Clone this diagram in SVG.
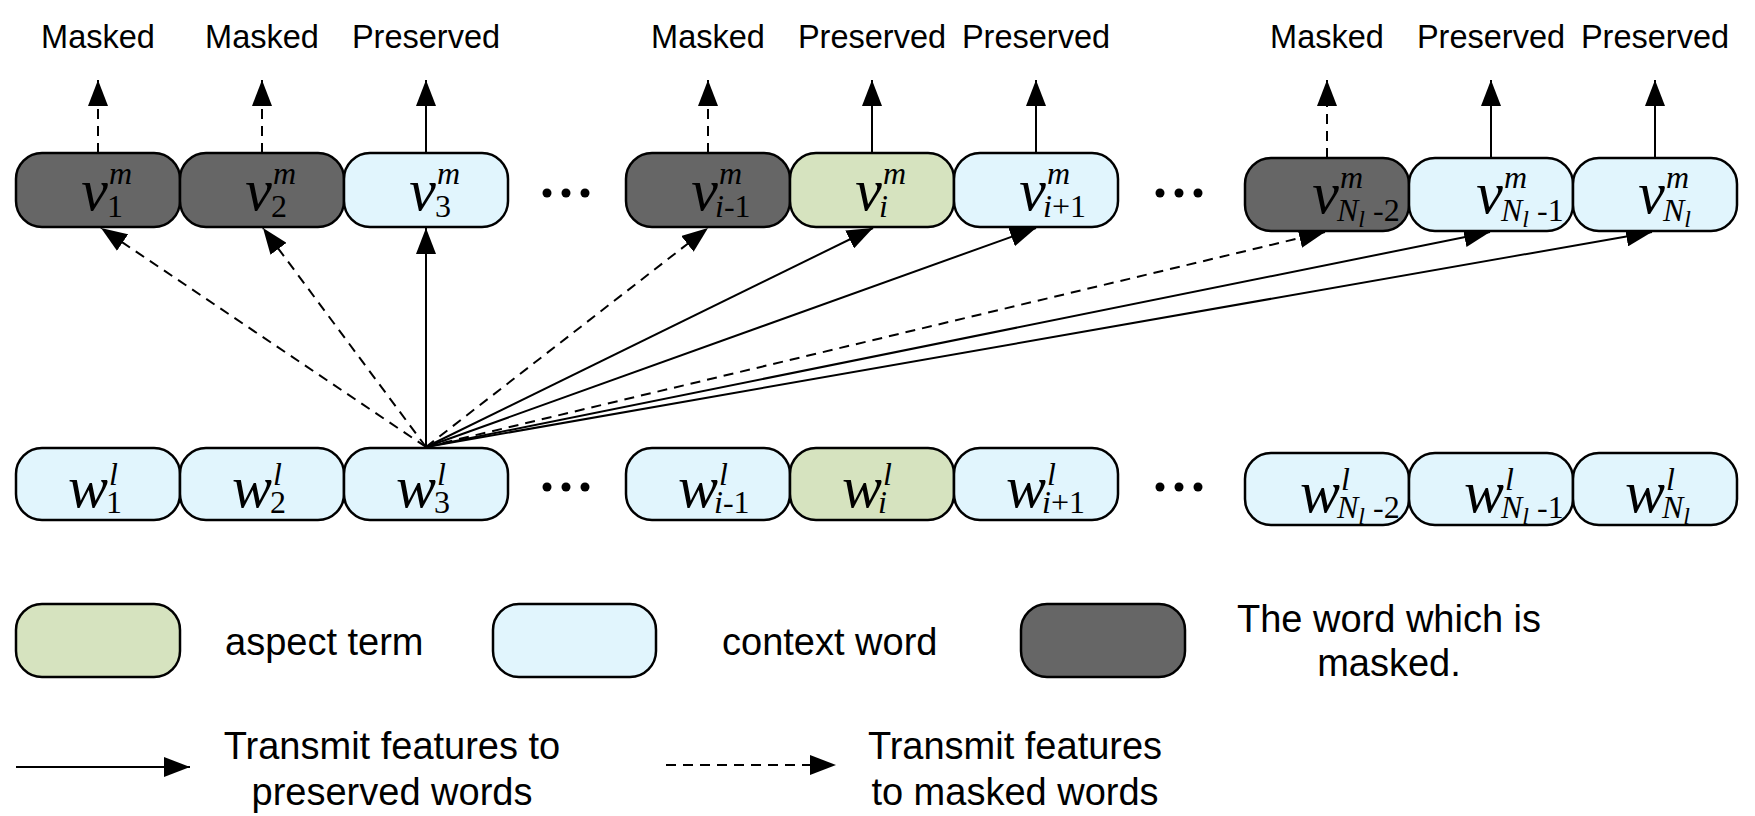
<svg xmlns="http://www.w3.org/2000/svg" width="1755" height="816" viewBox="0 0 1755 816">
<style>
.box{stroke:#000;stroke-width:2.5}
.dark{fill:#666666}
.blue{fill:#e1f5fd}
.green{fill:#d6e3bf}
.mv{font-family:"Liberation Serif",serif;font-style:italic;font-size:60px;fill:#000}
.sc{font-family:"Liberation Serif",serif;font-size:32px;fill:#000}
.it{font-style:italic}
.ssc{font-size:24px}
.lab{font-family:"Liberation Sans",Arial,sans-serif;font-size:32.5px;fill:#000;text-anchor:middle}
.leg{font-family:"Liberation Sans",Arial,sans-serif;font-size:38px;fill:#000}
.ln{stroke:#000;stroke-width:2;fill:none;marker-end:url(#ah)}
.dash{stroke-dasharray:10 7}
.dot{fill:#000}
</style>
<defs>
<marker id="ah" markerUnits="userSpaceOnUse" markerWidth="26" markerHeight="20" refX="26" refY="10" orient="auto">
<path d="M0,0 L26,10 L0,20 z" fill="#000"/>
</marker>
</defs>

<g id="connectors">
<line class="ln dash" x1="98" y1="153" x2="98" y2="80"/>
<line class="ln dash" x1="262" y1="153" x2="262" y2="80"/>
<line class="ln" x1="426" y1="153" x2="426" y2="80"/>
<line class="ln dash" x1="708" y1="153" x2="708" y2="80"/>
<line class="ln" x1="872" y1="153" x2="872" y2="80"/>
<line class="ln" x1="1036" y1="153" x2="1036" y2="80"/>
<line class="ln dash" x1="1327" y1="158" x2="1327" y2="80"/>
<line class="ln" x1="1491" y1="158" x2="1491" y2="80"/>
<line class="ln" x1="1655" y1="158" x2="1655" y2="80"/>
<line class="ln dash" x1="426" y1="447" x2="101" y2="228"/>
<line class="ln dash" x1="426" y1="447" x2="263" y2="228"/>
<line class="ln" x1="426" y1="447" x2="426" y2="228"/>
<line class="ln dash" x1="426" y1="447" x2="708" y2="228"/>
<line class="ln" x1="426" y1="447" x2="873" y2="228"/>
<line class="ln" x1="426" y1="447" x2="1036" y2="228"/>
<line class="ln dash" x1="426" y1="447" x2="1325" y2="232"/>
<line class="ln" x1="426" y1="447" x2="1490" y2="232"/>
<line class="ln" x1="426" y1="447" x2="1652" y2="232"/>
</g>

<g id="labels">
<text class="lab" x="98" y="48">Masked</text>
<text class="lab" x="262" y="48">Masked</text>
<text class="lab" x="426" y="48">Preserved</text>
<text class="lab" x="708" y="48">Masked</text>
<text class="lab" x="872" y="48">Preserved</text>
<text class="lab" x="1036" y="48">Preserved</text>
<text class="lab" x="1327" y="48">Masked</text>
<text class="lab" x="1491" y="48">Preserved</text>
<text class="lab" x="1655" y="48">Preserved</text>
</g>

<g id="v1"><rect class="box dark" x="16" y="153" width="164" height="74" rx="26"/>
<text class="mv" x="108" y="210" text-anchor="end">v</text><text class="sc it" x="109" y="184">m</text><text class="sc" x="107" y="217">1</text></g>
<g id="v2"><rect class="box dark" x="180" y="153" width="164" height="74" rx="26"/>
<text class="mv" x="272" y="210" text-anchor="end">v</text><text class="sc it" x="273" y="184">m</text><text class="sc" x="271" y="217">2</text></g>
<g id="v3"><rect class="box blue" x="344" y="153" width="164" height="74" rx="26"/>
<text class="mv" x="436" y="210" text-anchor="end">v</text><text class="sc it" x="437" y="184">m</text><text class="sc" x="435" y="217">3</text></g>
<g id="dots-top-1"><circle class="dot" cx="547" cy="193" r="4.5"/><circle class="dot" cx="566" cy="193" r="4.5"/><circle class="dot" cx="585" cy="193" r="4.5"/></g>
<g id="vim1"><rect class="box dark" x="626" y="153" width="164" height="74" rx="26"/>
<text class="mv" x="718" y="210" text-anchor="end">v</text><text class="sc it" x="719" y="184">m</text><text class="sc" x="715" y="217"><tspan class="it">i</tspan>-1</text></g>
<g id="vi"><rect class="box green" x="790" y="153" width="164" height="74" rx="26"/>
<text class="mv" x="882" y="210" text-anchor="end">v</text><text class="sc it" x="883" y="184">m</text><text class="sc it" x="879" y="217">i</text></g>
<g id="vip1"><rect class="box blue" x="954" y="153" width="164" height="74" rx="26"/>
<text class="mv" x="1046" y="210" text-anchor="end">v</text><text class="sc it" x="1047" y="184">m</text><text class="sc" x="1043" y="217"><tspan class="it">i</tspan>+1</text></g>
<g id="dots-top-2"><circle class="dot" cx="1160" cy="193" r="4.5"/><circle class="dot" cx="1179" cy="193" r="4.5"/><circle class="dot" cx="1198" cy="193" r="4.5"/></g>
<g id="vNm2"><rect class="box dark" x="1245" y="158" width="164" height="73" rx="26"/>
<text class="mv" x="1339" y="213" text-anchor="end">v</text><text class="sc it" x="1340" y="188">m</text><text class="sc" x="1337" y="221"><tspan class="it">N</tspan><tspan class="it ssc" dy="6">l</tspan><tspan dy="-6"> -2</tspan></text></g>
<g id="vNm1"><rect class="box blue" x="1409" y="158" width="164" height="73" rx="26"/>
<text class="mv" x="1503" y="213" text-anchor="end">v</text><text class="sc it" x="1504" y="188">m</text><text class="sc" x="1501" y="221"><tspan class="it">N</tspan><tspan class="it ssc" dy="6">l</tspan><tspan dy="-6"> -1</tspan></text></g>
<g id="vN"><rect class="box blue" x="1573" y="158" width="164" height="73" rx="26"/>
<text class="mv" x="1665" y="213" text-anchor="end">v</text><text class="sc it" x="1666" y="188">m</text><text class="sc" x="1663" y="221"><tspan class="it">N</tspan><tspan class="it ssc" dy="6">l</tspan></text></g>

<g id="w1"><rect class="box blue" x="16" y="448" width="164" height="72" rx="26"/>
<text class="mv" x="108" y="507" text-anchor="end">w</text><text class="sc it" x="109" y="485">l</text><text class="sc" x="106" y="513">1</text></g>
<g id="w2"><rect class="box blue" x="180" y="448" width="164" height="72" rx="26"/>
<text class="mv" x="272" y="507" text-anchor="end">w</text><text class="sc it" x="273" y="485">l</text><text class="sc" x="270" y="513">2</text></g>
<g id="w3"><rect class="box blue" x="344" y="448" width="164" height="72" rx="26"/>
<text class="mv" x="436" y="507" text-anchor="end">w</text><text class="sc it" x="437" y="485">l</text><text class="sc" x="434" y="513">3</text></g>
<g id="dots-bot-1"><circle class="dot" cx="547" cy="487" r="4.5"/><circle class="dot" cx="566" cy="487" r="4.5"/><circle class="dot" cx="585" cy="487" r="4.5"/></g>
<g id="wim1"><rect class="box blue" x="626" y="448" width="164" height="72" rx="26"/>
<text class="mv" x="718" y="507" text-anchor="end">w</text><text class="sc it" x="719" y="485">l</text><text class="sc" x="714" y="513"><tspan class="it">i</tspan>-1</text></g>
<g id="wi"><rect class="box green" x="790" y="448" width="164" height="72" rx="26"/>
<text class="mv" x="882" y="507" text-anchor="end">w</text><text class="sc it" x="883" y="485">l</text><text class="sc it" x="878" y="513">i</text></g>
<g id="wip1"><rect class="box blue" x="954" y="448" width="164" height="72" rx="26"/>
<text class="mv" x="1046" y="507" text-anchor="end">w</text><text class="sc it" x="1047" y="485">l</text><text class="sc" x="1042" y="513"><tspan class="it">i</tspan>+1</text></g>
<g id="dots-bot-2"><circle class="dot" cx="1160" cy="487" r="4.5"/><circle class="dot" cx="1179" cy="487" r="4.5"/><circle class="dot" cx="1198" cy="487" r="4.5"/></g>
<g id="wNm2"><rect class="box blue" x="1245" y="453" width="164" height="72" rx="26"/>
<text class="mv" x="1340" y="512" text-anchor="end">w</text><text class="sc it" x="1341" y="490">l</text><text class="sc" x="1337" y="518"><tspan class="it">N</tspan><tspan class="it ssc" dy="6">l</tspan><tspan dy="-6"> -2</tspan></text></g>
<g id="wNm1"><rect class="box blue" x="1409" y="453" width="164" height="72" rx="26"/>
<text class="mv" x="1504" y="512" text-anchor="end">w</text><text class="sc it" x="1505" y="490">l</text><text class="sc" x="1501" y="518"><tspan class="it">N</tspan><tspan class="it ssc" dy="6">l</tspan><tspan dy="-6"> -1</tspan></text></g>
<g id="wN"><rect class="box blue" x="1573" y="453" width="164" height="72" rx="26"/>
<text class="mv" x="1665" y="512" text-anchor="end">w</text><text class="sc it" x="1666" y="490">l</text><text class="sc" x="1662" y="518"><tspan class="it">N</tspan><tspan class="it ssc" dy="6">l</tspan></text></g>

<g id="legend-aspect"><rect class="box green" x="16" y="604" width="164" height="73" rx="26"/>
<text class="leg" x="225" y="655">aspect term</text></g>
<g id="legend-context"><rect class="box blue" x="493" y="604" width="163" height="73" rx="26"/>
<text class="leg" x="722" y="655">context word</text></g>
<g id="legend-masked"><rect class="box dark" x="1021" y="604" width="164" height="73" rx="26"/>
<text class="leg" x="1389" y="632" text-anchor="middle">The word which is</text>
<text class="leg" x="1389" y="676" text-anchor="middle">masked.</text></g>
<g id="legend-solid"><line class="ln" x1="16" y1="767" x2="190" y2="767"/>
<text class="leg" x="392" y="759" text-anchor="middle">Transmit features to</text>
<text class="leg" x="392" y="805" text-anchor="middle">preserved words</text></g>
<g id="legend-dashed"><line class="ln dash" x1="666" y1="765" x2="836" y2="765"/>
<text class="leg" x="1015" y="759" text-anchor="middle">Transmit features</text>
<text class="leg" x="1015" y="805" text-anchor="middle">to masked words</text></g>
</svg>
